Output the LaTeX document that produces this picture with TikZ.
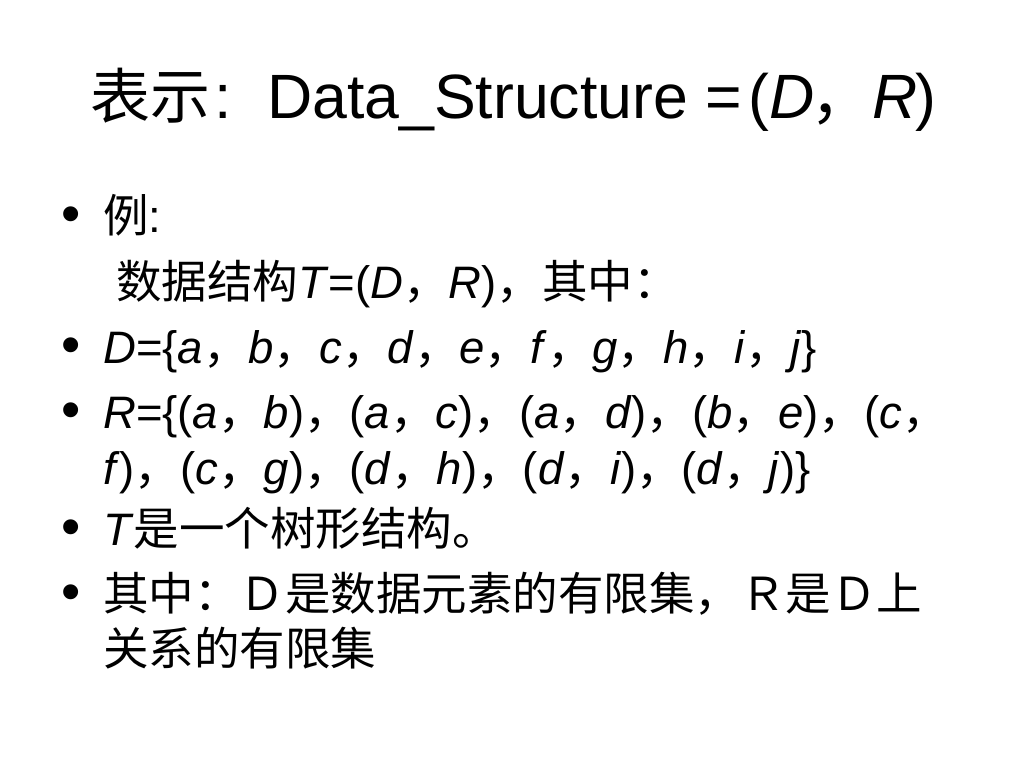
\documentclass[tikz,border=0pt]{standalone}
\usepackage{fontspec}
\setmainfont{Liberation Sans}
\newfontfamily\cjk{Noto Sans CJK SC}
\newcommand\cj[1]{{\cjk #1}}
\newcommand\iv[1]{\textit{#1}}
\tikzset{
  txt/.style={anchor=base west, inner sep=0pt, font=\fontsize{45.5}{50}\selectfont},
  ttl/.style={anchor=base west, inner sep=0pt, font=\fontsize{62.6}{70}\selectfont},
  bul/.style={anchor=base west, inner sep=0pt, font=\fontsize{55}{60}\selectfont}
}
\begin{document}
\begin{tikzpicture}[x=1pt,y=-1pt]
\fill[white] (0,0) rectangle (1024,768);
\useasboundingbox (0,0) rectangle (1024,768);
\node[ttl] (title) at (90,118) {{\cjk\fontsize{60}{66}\selectfont 表示}\hspace{4pt}:\hspace{35.6pt}Data\_Structure =\hspace{6pt}(\iv{D}\hspace{-4pt}\cj{，}\iv{R}\hspace{-3pt})};
\node[bul] (b1) at (61.5,232) {•};
\node[txt] (l1) at (103,232) {\cj{例}:};
\node[txt] (l2) at (116,298) {\cj{数据结构}\iv{T}=(\iv{D}\cj{，}\iv{R})\cj{，其中：}};
\node[bul] (b2) at (61.5,363) {•};
\node[txt] (l3) at (103,363) {\iv{D}=\{\iv{a}\cj{，}\iv{b}\cj{，}\iv{c}\cj{，}\iv{d}\cj{，}\iv{e}\cj{，}\iv{f}\cj{，}\iv{g}\cj{，}\iv{h}\cj{，}\iv{i}\cj{，}\iv{j}\}};
\node[bul] (b3) at (61.5,428) {•};
\node[txt] (l4) at (103,428) {\iv{R}=\{(\iv{a}\cj{，}\iv{b})\cj{，}(\iv{a}\cj{，}\iv{c})\cj{，}(\iv{a}\cj{，}\iv{d})\cj{，}(\iv{b}\cj{，}\iv{e})\cj{，}(\iv{c}\cj{，}};
\node[txt] (l5) at (103,484) {\iv{f})\cj{，}(\iv{c}\cj{，}\iv{g})\cj{，}(\iv{d}\cj{，}\iv{h})\cj{，}(\iv{d}\cj{，}\iv{i})\cj{，}(\iv{d}\cj{，}\iv{j})\}};
\node[bul] (b4) at (61.5,545) {•};
\node[txt] (l6) at (103,545) {\iv{T}\cj{是一个树形结构。}};
\node[bul] (b5) at (61.5,610) {•};
\node[txt] (l7) at (103,610) {\cj{其中：Ｄ是数据元素的有限集，Ｒ是Ｄ上}};
\node[txt] (l8) at (103,665) {\cj{关系的有限集}};
\end{tikzpicture}
\end{document}
